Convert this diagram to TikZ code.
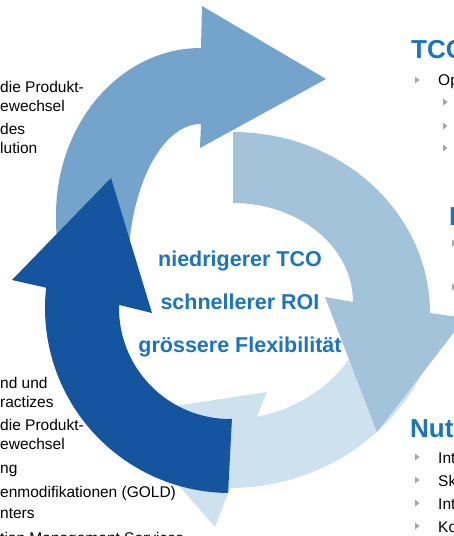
\documentclass[tikz,border=0pt]{standalone}
\usepackage{fontspec}
\setmainfont{Liberation Sans}
\usetikzlibrary{calc}
\definecolor{kreisA}{RGB}{116,163,203}
\definecolor{kreisB}{RGB}{162,195,218}
\definecolor{kreisC}{RGB}{205,225,238}
\definecolor{kreisD}{RGB}{21,84,158}
\definecolor{titel}{RGB}{28,117,186}
\definecolor{bulgrau}{RGB}{166,166,166}
\tikzset{
  mitte/.style={font=\fontsize{21.5}{25}\selectfont\bfseries, text=titel, anchor=base, inner sep=0pt},
  kopf/.style={font=\fontsize{26}{30}\selectfont\bfseries, text=titel, anchor=base west, inner sep=0pt},
  zeile/.style={font=\fontsize{15.5}{18}\selectfont, anchor=base west, inner sep=0pt},
  bul/.style={fill=bulgrau}
}
\begin{document}
\begin{tikzpicture}[x=1pt,y=1pt,yscale=-1]
	\useasboundingbox (0,0) rectangle (454,536);
	\clip (0,0) rectangle (454,536);
	% Pfeile
	\fill[kreisC] ($(230,280)+(15:215 and 208)$) arc[start angle=15, end angle=90, x radius=215, y radius=208]
		-- (215,527) -- (117,415) -- (267,392) -- ($(230,280)+(79.3:145 and 139)$)
		arc[start angle=79.3, end angle=15, x radius=145, y radius=139] -- cycle;
	\fill[kreisB] (233,203) -- (233,132) arc[start angle=270, end angle=360, x radius=197, y radius=181]
		-- (465,318) -- (377,432) -- (325,297) -- (353,302)
		arc[start angle=0, end angle=-90, x radius=120, y radius=99] -- cycle;
	\fill[kreisA] (57,271) -- (56,215) arc[start angle=180, end angle=270, x radius=145, y radius=167]
		-- (202,6) -- (326,79) -- (200,148) -- (201,124)
		arc[start angle=270, end angle=180, x radius=73, y radius=147] -- cycle;
	\fill[kreisD] ($(230,308)+(186.3:185)$) -- (12,280) -- (111,178) -- (152,313)
		-- ($(230,308)+(181.6:111)$) arc[start angle=181.6, end angle=89, radius=111]
		-- ($(230,308)+(90.6:185)$) arc[start angle=90.6, end angle=186.3, radius=185] -- cycle;
	% Mitte
	\node[mitte] (tco) at (240,266) {niedrigerer TCO};
	\node[mitte] (roi) at (240,309) {schnellerer ROI};
	\node[mitte] (flex) at (240,352) {grössere Flexibilität};
	% links
	\node[zeile] (l1) at (0,92) {die Produkt-};
	\node[zeile] (l2) at (0,111) {ewechsel};
	\node[zeile] (l3) at (0,134) {des};
	\node[zeile] (l4) at (0,153) {lution};
	\node[zeile] (l5) at (0,388) {nd und};
	\node[zeile] (l6) at (0,407) {ractizes};
	\node[zeile] (l7) at (0,430) {die Produkt-};
	\node[zeile] (l8) at (0,449) {ewechsel};
	\node[zeile] (l9) at (0,473) {ng};
	\node[zeile] (l10) at (0,497) {enmodifikationen (GOLD)};
	\node[zeile] (l11) at (0,518) {nters};
	\node[zeile] (l12) at (0,543) {tion Management Services};
	% rechts
	\node[kopf] (k1) at (411,58) {TCO};
	\node[zeile] (r1) at (438,85) {Op};
	\node[kopf] (k2) at (449,225) {I};
	\node[kopf] (k3) at (410,437) {Nut};
	\node[zeile] (r2) at (438,463) {Int};
	\node[zeile] (r3) at (438,486) {Sk};
	\node[zeile] (r4) at (438,509) {Int};
	\node[zeile] (r5) at (438,532) {Ko};
	\foreach \bx/\by in {415/80, 443/102, 443/126, 443/148, 452/243, 452/287, 415/457, 415/480, 415/503, 415/526}
		\fill[bul] (\bx,\by-3.5) -- (\bx+4.5,\by) -- (\bx,\by+3.5) -- cycle;
\end{tikzpicture}
\end{document}
